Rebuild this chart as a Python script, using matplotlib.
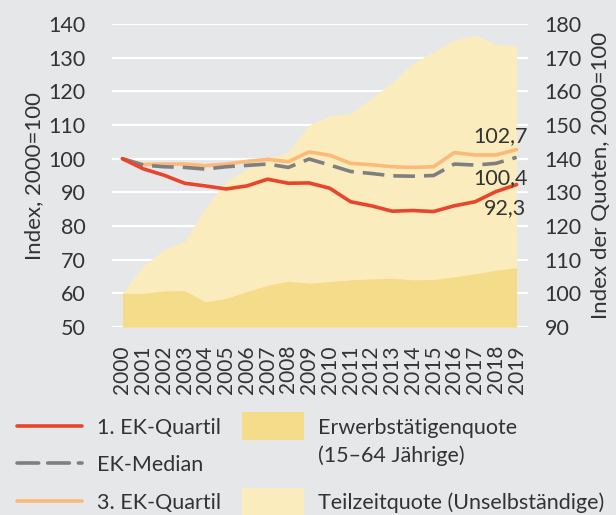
import matplotlib
matplotlib.use("Agg")
import matplotlib.pyplot as plt
from matplotlib.lines import Line2D
from matplotlib.patches import Rectangle

years = list(range(2000, 2020))
q1 = [100, 97.0, 95.1, 92.7, 91.9, 91.0, 91.9, 93.9, 92.7, 92.8,
      91.2, 87.2, 86.0, 84.4, 84.6, 84.3, 86.0, 87.2, 90.2, 92.3]
median = [100, 98.1, 97.6, 97.4, 96.9, 97.6, 98.0, 98.4, 97.4, 99.9,
          98.1, 96.2, 95.6, 94.9, 94.8, 95.0, 98.4, 98.1, 98.6, 100.4]
q3 = [100, 98.3, 98.4, 98.4, 97.9, 98.4, 99.2, 99.8, 99.1, 102.0,
      101.0, 98.6, 98.2, 97.6, 97.4, 97.6, 101.8, 101.1, 101.1, 102.7]
erwerb = [100, 100, 100.7, 100.8, 97.5, 98.5, 100.5, 102.4, 103.6, 103.0,
          103.5, 104.0, 104.3, 104.5, 104.0, 104.1, 104.9, 105.8, 106.9, 107.6]
teilzeit = [100, 108.2, 113.0, 115.5, 125.3, 133.3, 137.0, 140.0, 142.0, 150.0,
            152.7, 153.5, 157.9, 162.6, 168.3, 171.8, 175.2, 176.7, 174.0, 173.5]
left_ticks = list(range(50, 141, 10))
right_ticks = list(range(90, 181, 10))
labels_lines = ["1. EK-Quartil", "EK-Median", "3. EK-Quartil"]
labels_areas = ["Erwerbstätigenquote\n(15\u201364 Jährige)", "Teilzeitquote (Unselbständige)"]

BG = "#e6e7e9"
TXT = "#333333"
C_Q1 = "#e8452c"
C_MED = "#7f7f7f"
C_Q3 = "#fdb978"
C_ERW = "#f5dc8a"
C_TZ = "#faecbc"
FONT = "Lato"
plt.rcParams["font.family"] = [FONT, "DejaVu Sans"]
plt.rcParams["text.color"] = TXT

W, H = 616, 515
fig = plt.figure(figsize=(W / 100, H / 100), dpi=100, facecolor=BG)
ax = fig.add_axes([112 / W, 1 - 327 / H, 416 / W, 303 / H])
ax2 = ax.twinx()
ax.set_zorder(ax2.get_zorder() + 1)
ax.patch.set_visible(False)
ax2.patch.set_visible(False)

# areas on right axis
ax2.fill_between(years, 90, teilzeit, color=C_TZ, lw=0, zorder=1)
ax2.fill_between(years, 90, erwerb, color=C_ERW, lw=0, zorder=2)
ax2.set_ylim(90, 180)
ax2.set_yticks(right_ticks)
ax2.grid(axis="y", color="white", lw=1.6, zorder=0)
ax2.set_axisbelow(True)

# lines on left axis
lw = 2.6
ax.plot(years, q3, color=C_Q3, lw=lw, solid_capstyle="round", solid_joinstyle="round")
ax.plot(years, median, color=C_MED, lw=lw, dashes=(6, 2.5), dash_capstyle="butt")
ax.plot(years, q1, color=C_Q1, lw=lw, solid_capstyle="round", solid_joinstyle="round")
ax.set_ylim(50, 140)
ax.set_yticks(left_ticks)
ax.set_xlim(1999.5, 2019.55)
ax.set_xticks(years)
ax.set_xticklabels([str(y) for y in years], rotation=90, fontsize=15)

for a in (ax, ax2):
    for s in a.spines.values():
        s.set_visible(False)
ax.tick_params(axis="y", length=0, pad=19, labelsize=15.5, colors=TXT)
ax.tick_params(axis="x", length=0, pad=13, colors=TXT)
ax2.tick_params(axis="y", length=0, pad=12, labelsize=15.5, colors=TXT)

ax.set_ylabel("Index, 2000=100", fontsize=16, color=TXT)
ax2.set_ylabel("Index der Quoten, 2000=100", fontsize=16, color=TXT)
ax.yaxis.set_label_coords(-68 / 416, 0.5)
ax2.yaxis.set_label_coords(1 + 63 / 416, 0.5)

# end labels
ax.annotate("102,7", (years[-1], q3[-1]), xytext=(8, 10), textcoords="offset points",
            ha="right", va="center", fontsize=15.5)
ax.annotate("100,4", (years[-1], median[-1]), xytext=(8, -15), textcoords="offset points",
            ha="right", va="center", fontsize=15.5)
ax.annotate("92,3", (years[-1], q1[-1]), xytext=(7, -17), textcoords="offset points",
            ha="right", va="center", fontsize=15.5)

# manual legend
tf = fig.transFigure
rows = [426, 463, 501]
styles = [dict(color=C_Q1), dict(color=C_MED, dashes=(6, 2.5)), dict(color=C_Q3)]
for yrow, lab, st in zip(rows, labels_lines, styles):
    fig.add_artist(Line2D([17 / W, 82 / W], [1 - yrow / H] * 2, transform=tf, lw=lw,
                          solid_capstyle="round", dash_capstyle="round", **st))
    fig.text(97 / W, 1 - (yrow + 2) / H, lab, fontsize=15.5, va="center", ha="left")

fig.add_artist(Rectangle((242 / W, 1 - 440 / H), 62 / W, 28 / H, transform=tf,
                         color=C_ERW, lw=0))
fig.add_artist(Rectangle((242 / W, 0), 62 / W, 27 / H, transform=tf,
                         color=C_TZ, lw=0))
fig.text(318 / W, 1 - 442 / H, labels_areas[0], fontsize=15.5, va="center", ha="left",
         linespacing=1.45)
fig.text(318 / W, 1 - 503 / H, labels_areas[1], fontsize=15.5, va="center", ha="left")

fig.savefig("out.png", dpi=100, facecolor=BG)
